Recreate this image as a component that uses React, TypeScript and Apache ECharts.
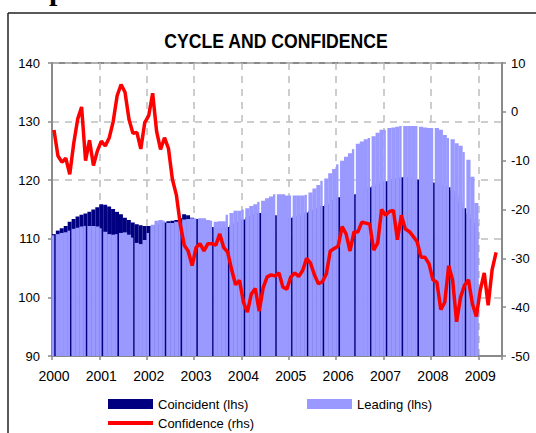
import React, { useEffect, useRef } from 'react';
import * as echarts from 'echarts';

// Monthly categories Jan 2000 .. Jun 2009
const months: string[] = [];
for (let y = 2000; y <= 2009; y++) {
  for (let m = 1; m <= 12; m++) {
    if (y === 2009 && m > 6) break;
    months.push(`${y}-${String(m).padStart(2, '0')}`);
  }
}

// Leading index (lhs), Jan 2000 .. Dec 2008
const leading = [
  110.6, 110.8, 111.0, 111.1, 111.4, 111.7, 111.9, 112.1, 112.2, 112.2, 112.2, 112.1,
  111.8, 111.2, 110.8, 110.7, 110.8, 111.0, 111.1, 110.7, 110.2, 109.3, 109.1, 109.8,
  111.0, 112.4, 113.1, 113.2, 113.1, 112.7, 112.7, 112.9, 113.2, 113.3, 113.4, 113.5,
  113.5, 113.5, 113.5, 113.2, 113.1, 112.9, 113.0, 113.0, 114.1, 114.4, 114.8, 114.8,
  115.0, 115.2, 115.6, 115.9, 116.3, 116.5, 116.9, 117.2, 117.6, 117.6, 117.6, 117.4,
  117.4, 117.4, 117.4, 117.4, 117.5, 117.9, 118.6, 119.2, 119.9, 120.3, 121.2, 121.9,
  122.7, 123.3, 124.0, 124.6, 125.3, 126.2, 126.6, 127.0, 127.2, 127.5, 128.1, 128.6,
  128.6, 128.9, 129.0, 129.1, 129.25, 129.25, 129.25, 129.25, 129.25, 129.1, 129.0, 128.9,
  128.9, 128.9, 128.6, 127.7, 127.2, 127.0, 126.3, 125.9, 124.8, 123.5, 120.6, 116.1,
];

// Coincident index (lhs), Jan 2000 .. Dec 2008
const coincident = [
  110.8, 111.4, 111.8, 112.2, 112.9, 113.4, 113.8, 114.1, 114.3, 114.6, 115.0, 115.4,
  115.9, 115.8, 115.5, 115.1, 114.6, 114.2, 113.6, 113.2, 112.8, 112.5, 112.3, 112.2,
  112.2, 112.2, 112.3, 112.6, 112.8, 113.0, 113.1, 113.2, 113.5, 114.2, 114.0, 113.6,
  113.4, 113.2, 112.8, 112.3, 112.0, 111.9, 111.8, 111.8, 112.0, 112.3, 112.7, 113.0,
  113.3, 113.6, 113.9, 114.2, 114.4, 114.5, 114.6, 114.4, 114.0, 113.7, 113.5, 113.5,
  113.6, 113.8, 113.9, 114.2, 114.5, 114.8, 115.0, 115.3, 115.6, 115.8, 116.0, 116.6,
  117.1, 117.5, 117.6, 117.6, 117.6, 117.7, 118.1, 118.5, 118.8, 119.0, 119.3, 119.6,
  119.8, 119.9, 120.1, 120.3, 120.5, 120.6, 120.5, 120.3, 120.1, 120.0, 119.9, 119.7,
  119.6, 119.4, 119.2, 119.0, 118.8, 118.2, 117.2, 116.2, 115.2, 114.3, 113.4, 112.7,
];

// Consumer confidence (rhs), Jan 2000 .. May 2009
const confidence = [
  -3.7, -9.0, -10.3, -9.5, -12.8, -6.5, -1.5, 1.0, -10.0, -5.8, -11.0, -8.0,
  -6.0, -7.0, -5.3, -2.0, 3.3, 5.6, 4.0, -1.5, -4.4, -4.2, -7.6, -2.2,
  -0.8, 3.8, -4.0, -7.7, -5.3, -7.5, -13.8, -17.0, -23.0, -27.3, -28.5, -31.5,
  -27.8, -27.0, -28.5, -27.0, -27.0, -27.3, -25.0, -27.8, -28.7, -32.3, -35.4, -34.5,
  -39.0, -41.0, -37.3, -36.2, -40.8, -36.0, -33.8, -33.4, -33.6, -33.0, -35.9, -36.3,
  -33.8, -33.0, -33.7, -32.5, -30.0, -31.0, -33.4, -35.2, -34.8, -33.2, -28.5, -28.0,
  -27.5, -23.5, -25.0, -28.5, -24.6, -24.6, -22.6, -22.8, -23.0, -28.3, -26.9, -20.0,
  -21.2, -20.4, -20.2, -26.2, -21.2, -24.0, -24.5, -25.5, -26.6, -29.8, -29.8, -31.1,
  -34.4, -34.9, -40.5, -39.0, -31.5, -34.5, -43.0, -38.0, -35.5, -34.4, -39.3, -41.9,
  -36.5, -33.0, -39.6, -32.3, -28.8,
];

const titleText = 'CYCLE AND CONFIDENCE';
const FONT = "'Liberation Sans', Arial, sans-serif";

export default function App() {
  const ref = useRef<HTMLDivElement>(null);
  useEffect(() => {
    if (!ref.current) return;
    const chart = echarts.init(ref.current, undefined, { renderer: 'svg' });
    const isYearStart = (i: number) => i % 12 === 0;
    const legendBase = {
      padding: 0,
      itemWidth: 45,
      itemHeight: 10,
      icon: 'rect',
      selectedMode: false,
      textStyle: { fontFamily: FONT, fontSize: 13, color: '#000' },
    };
    chart.setOption({
      animation: false,
      backgroundColor: '#fff',
      legend: [
        { ...legendBase, data: ['Coincident (lhs)'], left: 108, top: 397.5 },
        { ...legendBase, data: ['Leading (lhs)'], left: 307, top: 397.5 },
        { ...legendBase, data: ['Confidence (rhs)'], left: 108, top: 416.5, itemHeight: 4 },
      ],
      grid: { left: 52, right: 34, top: 63, bottom: 77, show: true, borderColor: '#8a8a8a', borderWidth: 2, backgroundColor: 'transparent' },
      xAxis: {
        type: 'category',
        data: months,
        boundaryGap: true,
        axisLine: { onZero: false, lineStyle: { color: '#8a8a8a', width: 2 } },
        axisTick: { show: true, interval: (i: number) => isYearStart(i), length: 4, lineStyle: { color: '#8a8a8a', width: 1.5 } },
        axisLabel: {
          interval: (i: number) => isYearStart(i),
          formatter: (v: string) => v.slice(0, 4),
          fontFamily: FONT,
          fontSize: 14,
          color: '#000',
          margin: 13,
        },
        splitLine: { show: true, interval: (i: number) => isYearStart(i) && i > 0, lineStyle: { color: '#bdbdbd', width: 1.5, type: [7, 6] } },
      },
      yAxis: [
        {
          type: 'value',
          min: 90,
          max: 140,
          interval: 10,
          axisLine: { show: true, lineStyle: { color: '#8a8a8a', width: 2 } },
          axisTick: { show: true, length: 4, lineStyle: { color: '#8a8a8a', width: 1.5 } },
          axisLabel: { fontFamily: FONT, fontSize: 13, color: '#000', margin: 12 },
          splitLine: { show: true, lineStyle: { color: '#bdbdbd', width: 1.5, type: [7, 6] } },
        },
        {
          type: 'value',
          min: -50,
          max: 10,
          interval: 10,
          position: 'right',
          axisLine: { show: true, lineStyle: { color: '#8a8a8a', width: 2 } },
          axisTick: { show: true, length: 4, lineStyle: { color: '#8a8a8a', width: 1.5 } },
          axisLabel: { fontFamily: FONT, fontSize: 13, color: '#000', margin: 9 },
          splitLine: { show: false },
        },
      ],
      series: [
        {
          name: 'Coincident (lhs)',
          type: 'bar',
          yAxisIndex: 0,
          data: coincident,
          barWidth: '100%',
          barGap: '-100%',
          itemStyle: { color: '#000080' },
          emphasis: { disabled: true },
        },
        {
          name: 'Leading (lhs)',
          type: 'bar',
          yAxisIndex: 0,
          data: leading.map((v, i) => (i % 4 === 0 ? v : '-')),
          barWidth: '60%',
          barGap: '-100%',
          itemStyle: { color: '#9999ff' },
          emphasis: { disabled: true },
        },
        {
          name: 'Leading (lhs)',
          type: 'bar',
          yAxisIndex: 0,
          data: leading.map((v, i) => (i % 4 === 0 ? '-' : v)),
          barWidth: '106%',
          barGap: '-100%',
          itemStyle: { color: '#9999ff' },
          emphasis: { disabled: true },
        },
        {
          name: 'Confidence (rhs)',
          type: 'line',
          yAxisIndex: 1,
          data: confidence,
          symbol: 'none',
          lineStyle: { color: '#ff0000', width: 3.5 },
          itemStyle: { color: '#ff0000' },
          emphasis: { disabled: true },
          z: 5,
        },
      ],
      graphic: [
        { type: 'line', shape: { x1: 8, y1: 13, x2: 536, y2: 13 }, style: { stroke: '#222', lineWidth: 1.5 } },
        { type: 'line', shape: { x1: 8, y1: 13, x2: 8, y2: 433 }, style: { stroke: '#222', lineWidth: 1.5 } },
        { type: 'text', x: 49, y: -10.5, style: { text: 'p', font: "bold 30px 'Liberation Serif', serif", fill: '#000', verticalAlign: 'middle' } },
        {
          type: 'text',
          x: 276,
          y: 40,
          scaleX: 0.84,
          style: {
            text: titleText,
            font: "bold 21px 'Liberation Sans', Arial, sans-serif",
            fill: '#000',
            align: 'center',
            textAlign: 'center',
            verticalAlign: 'middle',
            textVerticalAlign: 'middle',
          },
        },
      ],
    });
    return () => chart.dispose();
  }, []);
  return <div ref={ref} style={{ position: 'absolute', left: 0, top: 0, width: 536, height: 433 }} />;
}
